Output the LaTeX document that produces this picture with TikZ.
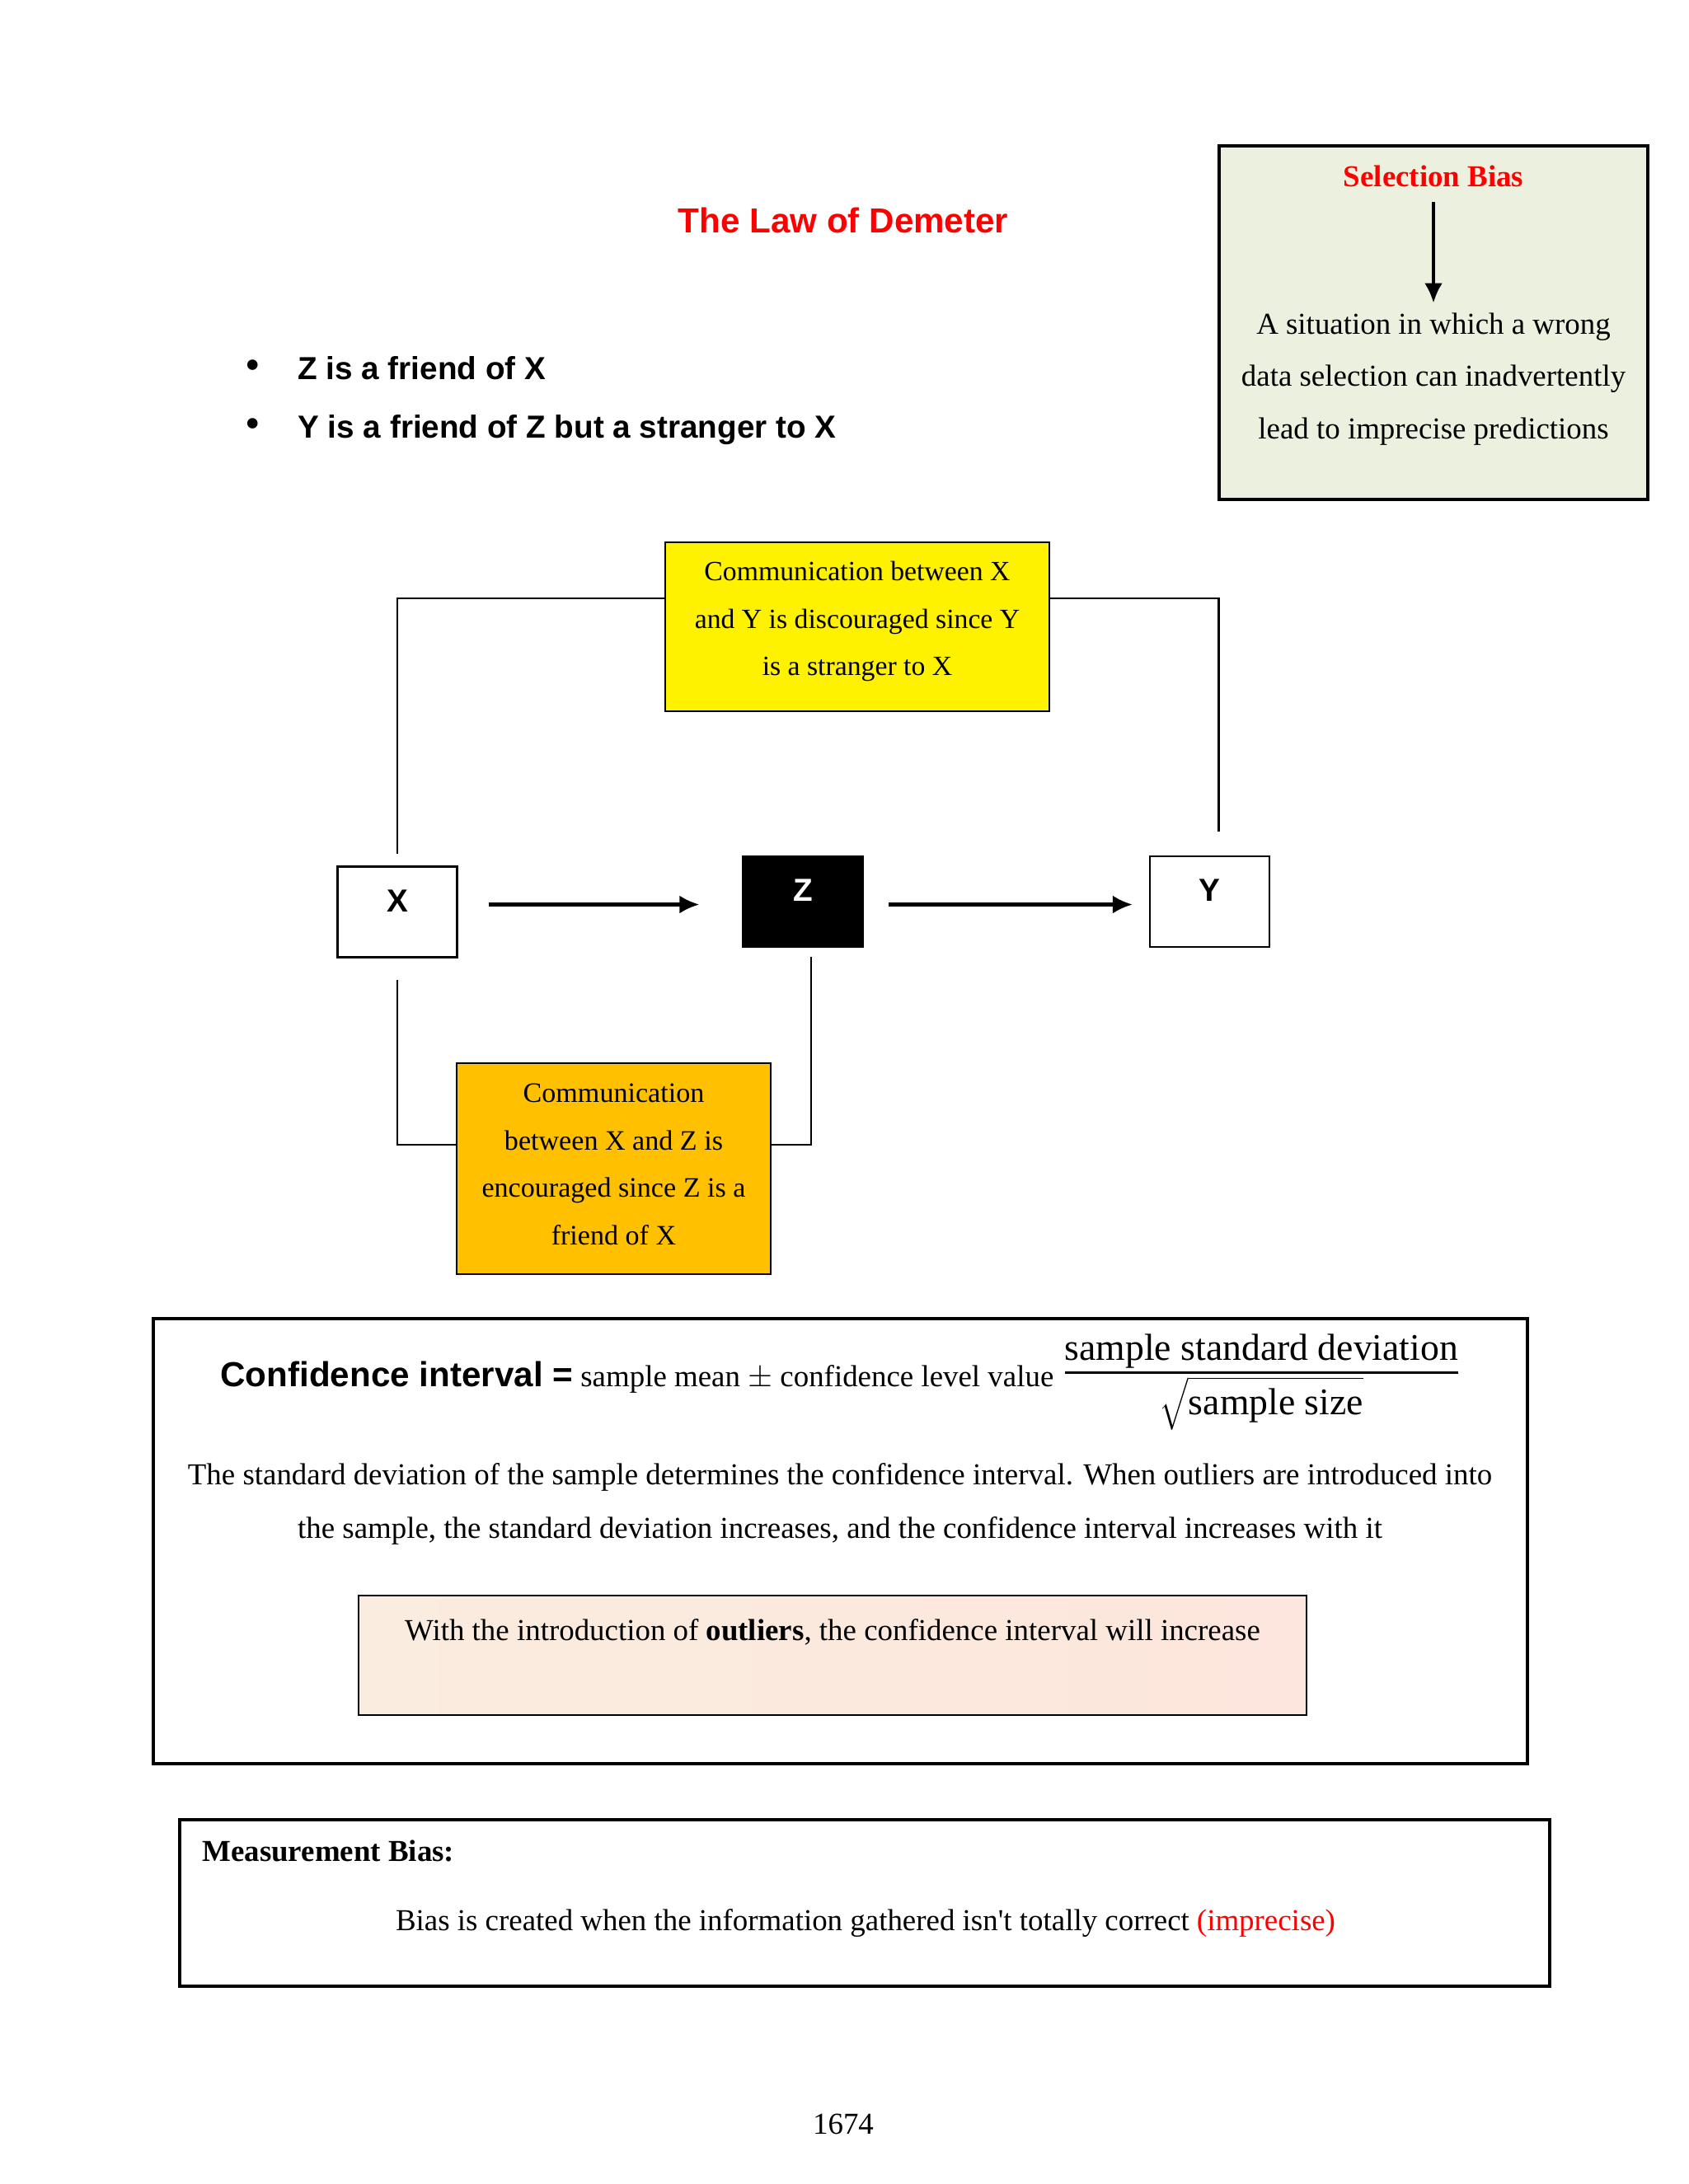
\documentclass[tikz,border=0pt]{standalone}
\usepackage{fontspec}
\setmainfont{Liberation Serif}
\setsansfont{Liberation Sans}
\usetikzlibrary{shapes.geometric, arrows.meta}
\definecolor{selgreen}{RGB}{235, 241, 222}
\definecolor{commorange}{RGB}{255, 192, 0}
\definecolor{peachleft}{RGB}{250, 236, 222}
\definecolor{peachright}{RGB}{253, 230, 221}
\tikzstyle{agent} = [rectangle, draw=black, minimum width=1.45cm, minimum height=1.1cm,
                     text height=0.28cm, text depth=0.29cm, line width=0.6pt,
                     font=\sffamily\bfseries\fontsize{11}{13}\selectfont]
\tikzstyle{note} = [rectangle, draw=black, line width=0.6pt]
\tikzstyle{frame} = [rectangle, draw=black, line width=1pt]
\tikzstyle{bullettext} = [anchor=base west, font=\sffamily\bfseries\fontsize{11}{13}\selectfont]
\tikzstyle{bulletdot} = [anchor=base, font=\fontsize{15}{15}\selectfont]
\tikzstyle{arrow} = [line width=1.2pt,->,>={Latex[length=0.24cm,width=0.22cm]}]
\tikzstyle{link} = [line width=0.6pt]

\begin{document}
\begin{tikzpicture}[font=\fontsize{10.5}{13}\selectfont]
        \useasboundingbox (0,0) rectangle (20.48,-26.5);

        %Title
        \node (title) at (10.23,-2.67) [text=red, font=\sffamily\bfseries\fontsize{12}{14}\selectfont] {The Law of Demeter};

        %Selection bias box
        \node (selbox) [frame, fill=selgreen, minimum width=5.2cm, minimum height=4.29cm] at (17.39,-3.915) {};
        \node (seltitle) at (17.39,-2.14) [text=red, font=\bfseries\fontsize{10.5}{13}\selectfont] {Selection Bias};
        \node (seltext) at (17.39,-4.60) [align=center, font=\fontsize{10.5}{18}\selectfont] {A situation in which a wrong\\data selection can inadvertently\\lead to imprecise predictions};
        \draw [arrow] ([yshift=-0.06cm]seltitle.south) -- (seltitle |- seltext.north);

        %Bullets
        \node (bulletA) [bulletdot] at (3.07,-4.60) {\textbullet};
        \node (friendA) [bullettext] at (3.49,-4.60) {Z is a friend of X};
        \node (bulletB) [bulletdot] at (3.07,-5.31) {\textbullet};
        \node (friendB) [bullettext] at (3.49,-5.31) {Y is a friend of Z but a stranger to X};

        %Yellow box
        \node (discbox) [note, fill=yellow, minimum width=4.66cm, minimum height=2.05cm] at (10.40,-7.605) {};
        \node (disctext) at (10.40,-7.54) [align=center, font=\fontsize{9.6}{16.3}\selectfont] {Communication between X\\and Y is discouraged since Y\\is a stranger to X};

        %X, Z and Y
        \node (X) [agent] at (4.82,-11.065) {X};
        \node (Z) [agent, fill=black, text=white] at (9.74,-10.94) {Z};
        \node (Y) [agent] at (14.675,-10.94) {Y};

        %Orange box
        \node (encbox) [note, fill=commorange, minimum width=3.81cm, minimum height=2.56cm] at (7.445,-14.18) {};
        \node (enctext) at (7.445,-14.13) [align=center, font=\fontsize{9.7}{16.4}\selectfont] {Communication\\between X and Z is\\encouraged since Z is a\\friend of X};

        %Arrows X to Z to Y
        \draw [arrow, shorten <=0.37cm, shorten >=0.52cm] ([yshift=0.09cm]X.east) -- ([yshift=0.09cm]X.east -| Z.west);
        \draw [arrow, shorten <=0.3cm, shorten >=0.2cm] ([yshift=-0.035cm]Z.east) -- ([yshift=-0.035cm]Z.east -| Y.west);

        %Lines to yellow box
        \draw [link] ([yshift=0.14cm]X.north) |- ([yshift=0.345cm]discbox.west);
        \draw [link] ([yshift=0.345cm]discbox.east) -| ([xshift=0.11cm, yshift=0.29cm]Y.north);

        %Lines to orange box
        \draw [link] ([yshift=-0.26cm]X.south) |- ([yshift=0.29cm]encbox.west);
        \draw [link] ([yshift=0.29cm]encbox.east) -| ([xshift=0.1cm, yshift=-0.11cm]Z.south);

        %Confidence interval box
        \node (cibox) [frame, minimum width=16.67cm, minimum height=5.40cm] at (10.195,-18.70) {};
        \node (ciformula) [anchor=base west] at (2.55,-16.82) {{\sffamily\bfseries\fontsize{12}{14}\selectfont Confidence interval =} sample mean $\pm$ confidence level value \raisebox{0.07cm}{$\textstyle{\mbox{\fontsize{13}{15}\selectfont sample standard deviation}\above 1pt \raisebox{-0.6pt}{$\sqrt{\mbox{\fontsize{13}{15}\selectfont sample size}}$}}$}};
        \node (cipara) at (10.19,-18.25) [align=center, font=\fontsize{10.5}{18.7}\selectfont] {The standard deviation of the sample determines the confidence interval. When outliers are introduced into\\the sample, the standard deviation increases, and the confidence interval increases with it};

        %Outliers box
        \node (outbox) [note, left color=peachleft, right color=peachright, minimum width=11.5cm, minimum height=1.45cm] at (10.10,-20.085) {};
        \node (outtext) at (10.10,-19.80) {With the introduction of \textbf{outliers}, the confidence interval will increase};

        %Measurement bias box
        \node (mbbox) [frame, minimum width=16.62cm, minimum height=2.02cm] at (10.49,-23.09) {};
        \node (mbtitle) [anchor=west, font=\bfseries\fontsize{10.5}{13}\selectfont] at (2.33,-22.46) {Measurement Bias:};
        \node (mbtext) at (10.5,-23.33) {Bias is created when the information gathered isn\textquotesingle t totally correct \textcolor{red}{(imprecise)}};

        %Page number
        \node (pagenum) at (10.23,-25.77) {1674};

\end{tikzpicture}
\end{document}
